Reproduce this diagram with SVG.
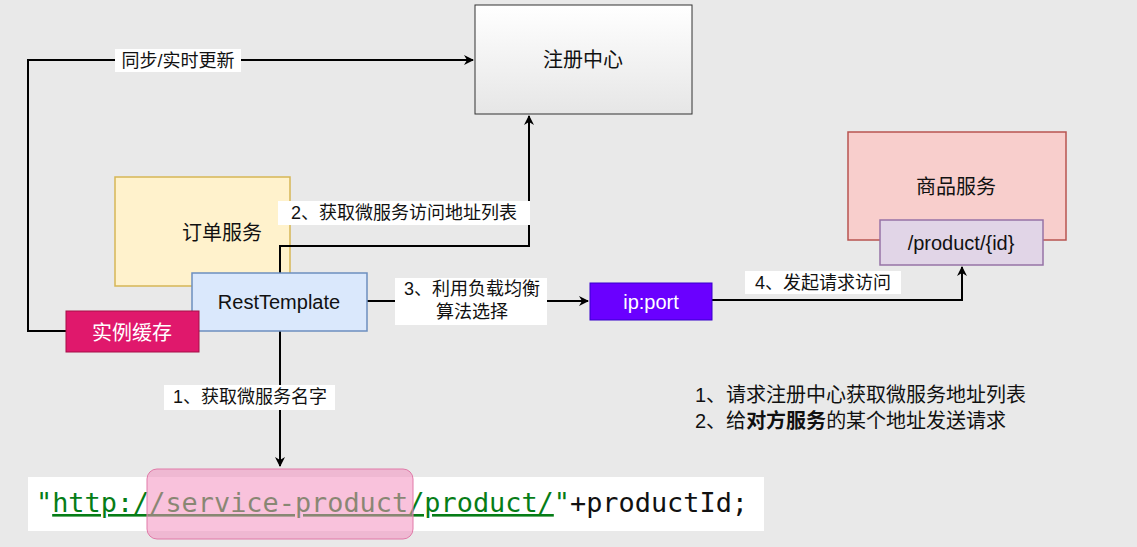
<svg xmlns="http://www.w3.org/2000/svg" width="1137" height="547" viewBox="0 0 1137 547">
<defs>
<marker id="arr" viewBox="0 0 10 10" refX="9" refY="5" markerWidth="10" markerHeight="10" markerUnits="userSpaceOnUse" orient="auto"><path d="M0,0 L10,5 L0,10 L3,5 Z" fill="#000"/></marker>
<linearGradient id="g" x1="0" y1="0" x2="0" y2="1"><stop offset="0" stop-color="#ffffff"/><stop offset="1" stop-color="#e6e6e6"/></linearGradient>
<style>
text{font-family:"Liberation Sans","Noto Sans CJK SC",sans-serif;fill:#111}
.n{font-size:20px}
.l{font-size:18px}
.c{stroke:#000;stroke-width:2;fill:none}
.bg{fill:#fff}
</style>
</defs>
<rect width="1137" height="547" fill="#e9e9e9"/>
<g id="order-service"><rect x="115" y="177" width="175" height="109" fill="#fff2cc" stroke="#d6b656" stroke-width="1.5"/><text class="n" x="222" y="240" text-anchor="middle">订单服务</text></g>
<g id="connectors">
<path class="c" d="M66,331 H28 V60 H473" marker-end="url(#arr)"/>
<rect class="bg" x="115" y="49" width="126" height="23"/><text class="l" x="178" y="67" text-anchor="middle">同步/实时更新</text>
<path class="c" d="M280,273 V246 H529 V116" marker-end="url(#arr)"/>
<rect class="bg" x="278" y="201" width="252" height="24"/><text class="l" x="404" y="219" text-anchor="middle">2、获取微服务访问地址列表</text>
<path class="c" d="M367,301 H588" marker-end="url(#arr)"/>
<rect class="bg" x="395" y="278" width="152" height="47"/><text class="l" x="472" y="295" text-anchor="middle">3、利用负载均衡</text><text class="l" x="472" y="318" text-anchor="middle">算法选择</text>
<path class="c" d="M712,300 H962 V267" marker-end="url(#arr)"/>
<rect class="bg" x="745" y="271" width="156" height="23"/><text class="l" x="823" y="289" text-anchor="middle">4、发起请求访问</text>
<path class="c" d="M280,331 V466" marker-end="url(#arr)"/>
<rect class="bg" x="164" y="385" width="171" height="25"/><text class="l" x="250" y="403" text-anchor="middle">1、获取微服务名字</text>
</g>
<g id="registry"><rect x="475" y="5" width="217" height="109" fill="url(#g)" stroke="#333" stroke-width="1"/><text class="n" x="583" y="67" text-anchor="middle">注册中心</text></g>
<g id="product-service"><rect x="848" y="132" width="218" height="108" fill="#f8cecc" stroke="#b85450" stroke-width="1.5"/><text class="n" x="956" y="194" text-anchor="middle">商品服务</text></g>
<g id="product-path"><rect x="880" y="220" width="163" height="45" fill="#e1d5e7" stroke="#9673a6" stroke-width="1.5"/><text class="n" x="961" y="250" text-anchor="middle">/product/{id}</text></g>
<g id="resttemplate"><rect x="192" y="273" width="175" height="58" fill="#dae8fc" stroke="#6c8ebf" stroke-width="1.5"/><text class="n" x="279" y="309" text-anchor="middle">RestTemplate</text></g>
<g id="cache"><rect x="66" y="311" width="133" height="41" fill="#e0186c" stroke="#a50f47" stroke-width="1"/><text class="n" x="132" y="340" text-anchor="middle" style="fill:#fff">实例缓存</text></g>
<g id="ipport"><rect x="590" y="283" width="122" height="37" fill="#6a00ff" stroke="#3700cc" stroke-width="1"/><text class="n" x="651" y="309" text-anchor="middle" style="fill:#fff">ip:port</text></g>
<g id="code">
<rect x="28" y="477" width="736" height="54" fill="#fff"/>
<text x="36" y="512" textLength="712" lengthAdjust="spacingAndGlyphs" style="font-family:'DejaVu Sans Mono','Liberation Mono',monospace;font-size:26px"><tspan style="fill:#067d17">"</tspan><tspan style="fill:#067d17;text-decoration:underline">http://service-product/product/</tspan><tspan style="fill:#067d17">"</tspan><tspan style="fill:#111">+productId;</tspan></text>
<rect x="147" y="469" width="266" height="70" rx="10" fill="#f48fbf" fill-opacity="0.55" stroke="#e07aa8" stroke-width="1"/>
</g>
<g id="notes">
<text class="n" x="695" y="402">1、请求注册中心获取微服务地址列表</text>
<text class="n" x="695" y="428">2、给<tspan font-weight="bold">对方服务</tspan>的某个地址发送请求</text>
</g>
</svg>
